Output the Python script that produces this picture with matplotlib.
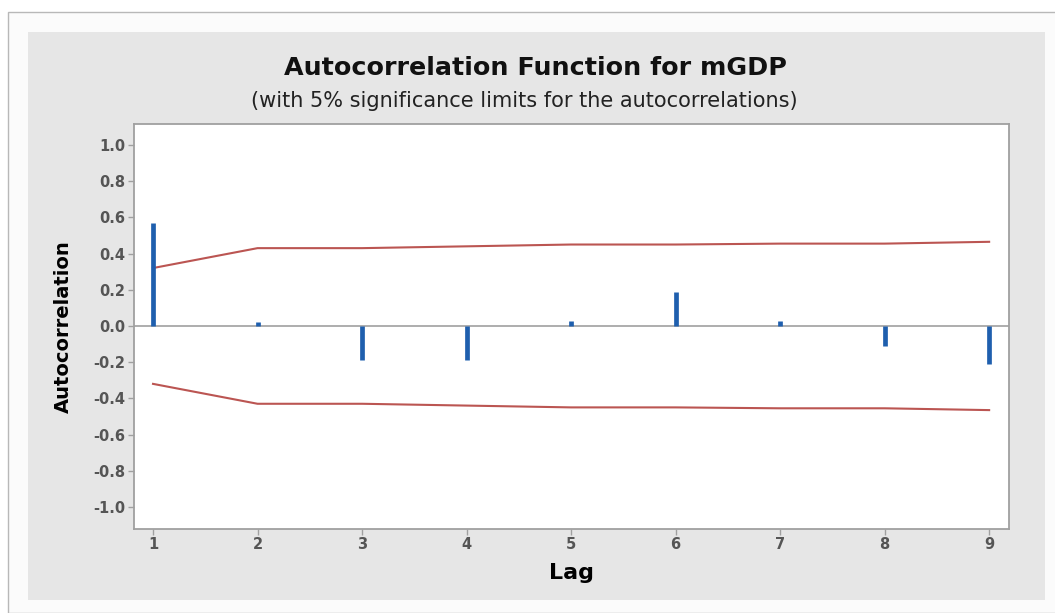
import numpy as np
import matplotlib
matplotlib.use("Agg")
from matplotlib import pyplot as plt
from matplotlib.patches import Rectangle

plt.rcParams['font.family'] = ['DejaVu Sans']

# 自己相関の値と5%有意限界
lags = [1, 2, 3, 4, 5, 6, 7, 8, 9]
acf = [0.57, 0.02, -0.19, -0.19, 0.03, 0.19, 0.03, -0.11, -0.21]
upper = [0.32, 0.43, 0.43, 0.44, 0.45, 0.45, 0.455, 0.455, 0.465]
lower = [-0.32, -0.43, -0.43, -0.44, -0.45, -0.45, -0.455, -0.455, -0.465]
yticks = [1.0, 0.8, 0.6, 0.4, 0.2, 0.0, -0.2, -0.4, -0.6, -0.8, -1.0]

W, H = 1055, 613
fig = plt.figure(figsize=(W / 100, H / 100), dpi=100)
fig.patch.set_facecolor('white')

# 外枠と灰色の背景
fig.patches.append(Rectangle((8 / W, 0), 1.2, (H - 12) / H, transform=fig.transFigure,
                             facecolor='#fbfbfb', edgecolor='#b8b8b8', lw=1.0, zorder=-3))
fig.patches.append(Rectangle((28 / W, 1 - 600 / H), 1017 / W, 568 / H, transform=fig.transFigure,
                             facecolor='#e6e6e6', edgecolor='none', zorder=-2))

ax = fig.add_axes([134 / W, 1 - 529 / H, 875 / W, 405 / H])
ax.set_facecolor('white')

# 棒（縦線）
ax.vlines(lags, 0, acf, colors='#1f5fae', linewidth=3.4, zorder=3)
ax.axhline(0, color='#a0a0a0', linewidth=1.2, zorder=2)
# 有意限界
ax.plot(lags, upper, color='#bb5552', linewidth=1.5)
ax.plot(lags, lower, color='#bb5552', linewidth=1.5)

ax.set_xlim(0.818, 9.19)
ax.set_ylim(-1.122, 1.116)
ax.set_xticks(lags)
ax.set_yticks(yticks)
ax.set_yticklabels([f"{v:.1f}" for v in yticks])
ax.tick_params(colors='#a0a0a0', labelcolor='#555555', labelsize=10.5, length=4, width=1, pad=2)
for lbl in ax.get_xticklabels() + ax.get_yticklabels():
    lbl.set_fontweight('bold')
for s in ax.spines.values():
    s.set_color('#a0a0a0')
    s.set_linewidth(1.3)

ax.set_xlabel('Lag', fontsize=16, fontweight='bold', labelpad=8)
ax.set_ylabel('Autocorrelation', fontsize=14, fontweight='bold', labelpad=15)

fig.text(535 / W, 1 - 68 / H, 'Autocorrelation Function for mGDP', ha='center', va='center',
         fontsize=18.3, fontweight='bold', color='#111111')
fig.text(524 / W, 1 - 101 / H, '(with 5% significance limits for the autocorrelations)',
         ha='center', va='center', fontsize=15, color='#222222')

fig.savefig('out.png', dpi=100)
